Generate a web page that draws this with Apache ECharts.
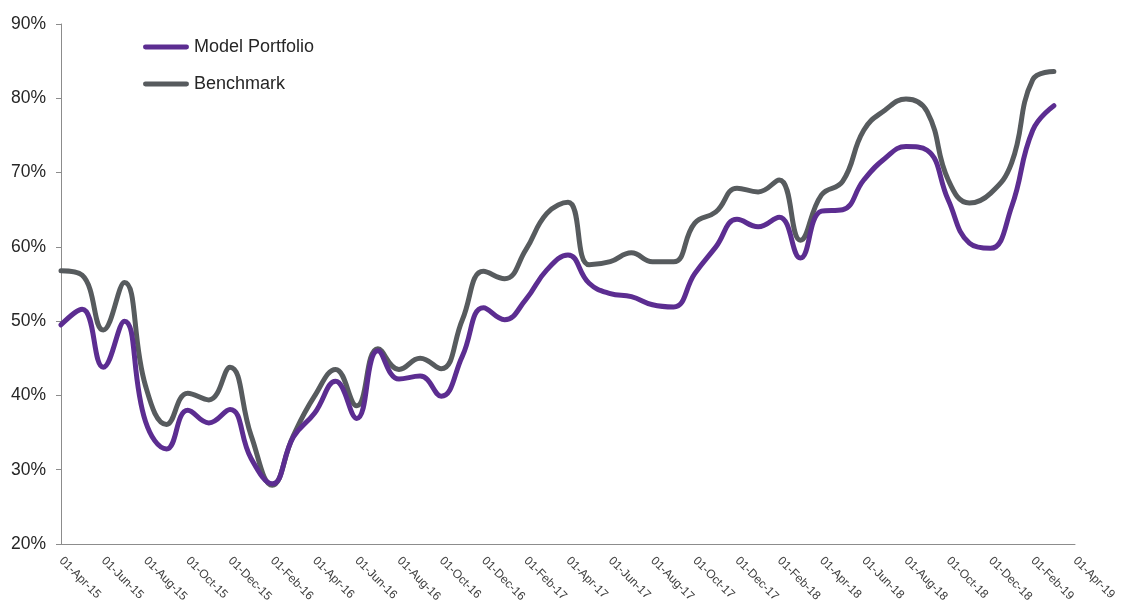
<!DOCTYPE html>
<html>
<head>
<meta charset="utf-8">
<script src="https://cdn.jsdelivr.net/npm/echarts@6/dist/echarts.min.js"></script>
<style>
  html, body { margin: 0; padding: 0; background: #fff; }
  #MyChart { width: 1122px; height: 603px; }
</style>
</head>
<body>
<div id="MyChart"></div>
<script>
// month axis, one entry per month, only every second one is labelled
var months = [
    '01-Apr-15', '01-May-15', '01-Jun-15', '01-Jul-15', '01-Aug-15', '01-Sep-15',
    '01-Oct-15', '01-Nov-15', '01-Dec-15', '01-Jan-16', '01-Feb-16', '01-Mar-16',
    '01-Apr-16', '01-May-16', '01-Jun-16', '01-Jul-16', '01-Aug-16', '01-Sep-16',
    '01-Oct-16', '01-Nov-16', '01-Dec-16', '01-Jan-17', '01-Feb-17', '01-Mar-17',
    '01-Apr-17', '01-May-17', '01-Jun-17', '01-Jul-17', '01-Aug-17', '01-Sep-17',
    '01-Oct-17', '01-Nov-17', '01-Dec-17', '01-Jan-18', '01-Feb-18', '01-Mar-18',
    '01-Apr-18', '01-May-18', '01-Jun-18', '01-Jul-18', '01-Aug-18', '01-Sep-18',
    '01-Oct-18', '01-Nov-18', '01-Dec-18', '01-Jan-19', '01-Feb-19', '01-Mar-19',
    '01-Apr-19'
];

// percentages
var modelPortfolio = [
    49.5, 51.6, 43.8, 50.0, 36.5, 32.8, 38.0, 36.3, 38.1, 31.5, 28.1, 34.4,
    37.6, 41.9, 36.9, 46.0, 42.2, 42.6, 39.9, 45.3, 51.8, 50.2, 52.9, 56.9,
    58.9, 55.1, 53.7, 53.3, 52.2, 51.9, 56.4, 60.0, 63.7, 62.7, 64.0, 58.5,
    64.8, 65.0, 69.0, 71.9, 73.5, 73.0, 66.3, 60.5, 59.8, 65.4, 75.7, 79.0
];
var benchmark = [
    56.8, 56.2, 48.8, 55.2, 41.3, 36.1, 40.3, 39.4, 43.8, 34.6, 27.9, 34.6,
    39.9, 43.5, 38.6, 46.3, 43.5, 45.0, 43.6, 50.2, 56.7, 55.7, 59.6, 64.5,
    66.0, 57.6, 58.0, 59.2, 58.0, 58.0, 63.2, 64.7, 67.9, 67.4, 69.0, 60.9,
    67.0, 68.8, 75.7, 78.4, 79.9, 78.2, 69.0, 65.9, 67.2, 71.3, 82.5, 83.6
];

var yMin = 20, yMax = 90, yStep = 10;

var fontName = '"Liberation Sans", Arial, sans-serif';
var axisGrey = '#8c8c8c';
// thick line with round ends for the legend
var capsule = 'path://M2.5,0 L44.5,0 A2.5,2.5 0 0 1 44.5,5 L2.5,5 A2.5,2.5 0 0 1 2.5,0 Z';

var myChart = echarts.init(document.getElementById('MyChart'));
var option = {
    backgroundColor: '#ffffff',
    animation: false,
    legend: {
        orient: 'vertical',
        left: 143,
        top: 38,
        padding: 0,
        icon: capsule,
        itemWidth: 46,
        itemHeight: 5,
        itemGap: 19,
        textStyle: { fontFamily: fontName, fontSize: 18, color: '#262626' },
        data: ['Model Portfolio', 'Benchmark']
    },
    grid: {
        left: 61,
        right: 47,
        top: 24,
        bottom: 59,
        outerBoundsMode: 'none',
        containLabel: false
    },
    xAxis: {
        type: 'category',
        boundaryGap: false,
        data: months,
        axisLine: { lineStyle: { color: axisGrey, width: 1 } },
        axisTick: { show: false },
        axisLabel: {
            interval: 1,
            rotate: -45,
            margin: 15,
            fontFamily: fontName,
            fontSize: 12,
            color: '#404040'
        },
        splitLine: { show: false }
    },
    yAxis: {
        type: 'value',
        min: yMin,
        max: yMax,
        interval: yStep,
        axisLine: { show: true, lineStyle: { color: axisGrey, width: 1 } },
        axisTick: { show: true, length: 5, lineStyle: { color: axisGrey } },
        axisLabel: {
            margin: 15,
            formatter: '{value}%',
            fontFamily: fontName,
            fontSize: 17.5,
            color: '#262626'
        },
        splitLine: { show: false }
    },
    series: [
        {
            name: 'Model Portfolio',
            type: 'line',
            smooth: 0.45,
            symbol: 'none',
            data: modelPortfolio,
            itemStyle: { color: '#5c2d91' },
            lineStyle: { color: '#5c2d91', width: 5, cap: 'round', join: 'round' },
            z: 3
        },
        {
            name: 'Benchmark',
            type: 'line',
            smooth: 0.45,
            symbol: 'none',
            data: benchmark,
            itemStyle: { color: '#575b5e' },
            lineStyle: { color: '#575b5e', width: 5, cap: 'round', join: 'round' },
            z: 2
        }
    ]
};
myChart.setOption(option);
</script>
</body>
</html>
